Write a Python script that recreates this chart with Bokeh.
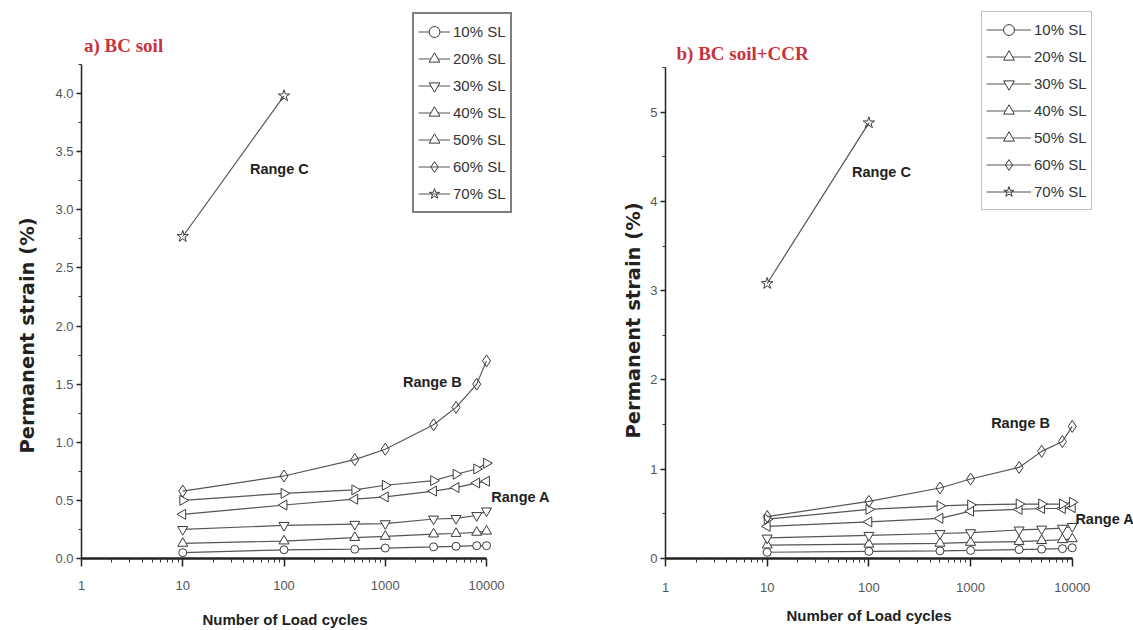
import math
from bokeh.plotting import figure
from bokeh.layouts import row
from bokeh.models import (Label, Legend, LegendItem, FixedTicker, Title,
                          NumeralTickFormatter, Range1d)
from bokeh.embed import file_html
from bokeh.resources import INLINE

# ---------------- data ----------------
cycles = [10, 100, 500, 1000, 3000, 5000, 8000, 10000]
cycles_70 = [10, 100]
series_labels = ["10% SL", "20% SL", "30% SL", "40% SL", "50% SL", "60% SL", "70% SL"]

# a) BC soil
bc_10 = [0.05, 0.075, 0.08, 0.09, 0.10, 0.105, 0.11, 0.11]
bc_20 = [0.13, 0.15, 0.18, 0.19, 0.21, 0.215, 0.225, 0.235]
bc_30 = [0.25, 0.285, 0.295, 0.30, 0.34, 0.345, 0.37, 0.41]
bc_40 = [0.38, 0.46, 0.51, 0.53, 0.58, 0.61, 0.65, 0.665]
bc_50 = [0.50, 0.56, 0.59, 0.63, 0.67, 0.725, 0.77, 0.82]
bc_60 = [0.58, 0.71, 0.85, 0.94, 1.15, 1.30, 1.50, 1.70]
bc_70 = [2.77, 3.98]

# b) BC soil + CCR
ccr_10 = [0.07, 0.08, 0.085, 0.09, 0.10, 0.105, 0.11, 0.12]
ccr_20 = [0.15, 0.16, 0.17, 0.18, 0.19, 0.20, 0.21, 0.22]
ccr_30 = [0.23, 0.26, 0.28, 0.29, 0.32, 0.33, 0.34, 0.36]
ccr_40 = [0.36, 0.41, 0.45, 0.53, 0.55, 0.56, 0.56, 0.57]
ccr_50 = [0.44, 0.55, 0.59, 0.60, 0.61, 0.61, 0.61, 0.63]
ccr_60 = [0.47, 0.64, 0.79, 0.89, 1.02, 1.20, 1.31, 1.48]
ccr_70 = [3.08, 4.88]

x_ticks = [1, 10, 100, 1000, 10000]
x_minor_ticks = [2, 3, 4, 5, 6, 7, 8, 9,
                 20, 30, 40, 50, 60, 70, 80, 90,
                 200, 300, 400, 500, 600, 700, 800, 900,
                 2000, 3000, 4000, 5000, 6000, 7000, 8000, 9000]
a_y_ticks = [0.0, 0.5, 1.0, 1.5, 2.0, 2.5, 3.0, 3.5, 4.0]
a_y_minor = [0.25, 0.75, 1.25, 1.75, 2.25, 2.75, 3.25, 3.75, 4.25]
b_y_ticks = [0, 1, 2, 3, 4, 5]
b_y_minor = [0.5, 1.5, 2.5, 3.5, 4.5, 5.5]

SANS = "Liberation Sans"
SERIF = "Liberation Serif"
LINE_C = "#555555"
MARK_C = "#3a3a3a"

marker_specs = [("circle", 0.0, 8), ("triangle", 0.0, 10), ("inverted_triangle", 0.0, 10),
                ("triangle", math.pi / 2, 10), ("triangle", -math.pi / 2, 10),
                ("diamond", 0.0, 12), ("star", 0.0, 12)]


def make_panel(width, border_left, border_bottom, x_end, y_end, y_axis_end,
               yt, ymt, yfmt, series, title, title_xoff, title_y,
               ylab_offset, ylab_standoff, tick_standoff,
               xlab_offset, xlab_standoff, xlab_pad,
               legend_loc, legend_border, legend_bw, glyph_w, ranges_pos):
    height = 630
    p = figure(width=width, height=height, x_axis_type="log",
               x_range=Range1d(1, x_end), y_range=Range1d(0, y_end),
               output_backend="svg", toolbar_location=None,
               min_border_left=border_left, min_border_right=0,
               min_border_top=0, min_border_bottom=border_bottom)
    p.outline_line_color = None
    p.grid.visible = False
    p.background_fill_color = "white"
    p.border_fill_color = "white"

    xa = p.xaxis[0]
    xa.bounds = (1, 10000)
    xa.ticker = FixedTicker(ticks=x_ticks, minor_ticks=x_minor_ticks)
    xa.formatter = NumeralTickFormatter(format="0")
    xa.axis_line_width = 2.5
    xa.axis_line_color = "#222222"
    xa.major_tick_out = 8
    xa.major_tick_in = 0
    xa.major_tick_line_width = 1.5
    xa.major_tick_line_color = "#222222"
    xa.minor_tick_out = 4
    xa.minor_tick_in = 0
    xa.minor_tick_line_color = "#333333"
    xa.major_label_standoff = tick_standoff
    xa.major_label_text_font = SANS
    xa.major_label_text_font_size = "13px"
    xa.major_label_text_color = "#555555"

    ya = p.yaxis[0]
    ya.bounds = (0, y_axis_end)
    ya.ticker = FixedTicker(ticks=yt, minor_ticks=ymt)
    ya.formatter = NumeralTickFormatter(format=yfmt)
    ya.axis_line_width = 1.5
    ya.axis_line_color = "#222222"
    ya.major_tick_out = 5
    ya.major_tick_in = 0
    ya.major_tick_line_width = 1.5
    ya.major_tick_line_color = "#222222"
    ya.minor_tick_out = 3
    ya.minor_tick_in = 0
    ya.minor_tick_line_color = "#333333"
    ya.major_label_standoff = 3
    ya.major_label_text_font = SANS
    ya.major_label_text_font_size = "13px"
    ya.major_label_text_color = "#555555"

    items = []
    for i, (xs, ys) in enumerate(series):
        mk, ang, sz = marker_specs[i]
        lr = p.line(xs, ys, line_color=LINE_C, line_width=1.2)
        sr = p.scatter(xs, ys, marker=mk, angle=ang, size=sz,
                       line_color=MARK_C, line_width=1.0,
                       fill_color="white", fill_alpha=0.0 if mk in ("diamond", "star") else 1.0)
        items.append(LegendItem(label=series_labels[i], renderers=[lr, sr]))

    leg = Legend(items=items, location=legend_loc,
                 border_line_color=legend_border, border_line_width=legend_bw,
                 background_fill_color="white", background_fill_alpha=1.0,
                 padding=4, spacing=0, margin=0,
                 glyph_width=glyph_w, glyph_height=27, label_height=27,
                 label_standoff=3,
                 label_text_font=SANS, label_text_font_size="15px",
                 label_text_color="#333333")
    p.add_layout(leg)

    # panel title
    p.add_layout(Label(x=1, y=title_y, x_offset=title_xoff, text=title,
                       text_font=SERIF, text_font_style="bold",
                       text_font_size="19px", text_color="#c8323c",
                       text_baseline="middle", text_align="left"))
    # axis titles
    p.add_layout(Title(text="Permanent strain (%)", align="left", offset=ylab_offset,
                       standoff=ylab_standoff,
                       text_font="DejaVu Sans", text_font_style="bold",
                       text_font_size="19.5px", text_color="#222222"), "left")
    p.add_layout(Title(text="Number of Load cycles", align="left", offset=xlab_offset,
                       standoff=xlab_standoff,
                       padding=dict(left=0, right=0, top=xlab_pad, bottom=0),
                       text_font=SANS, text_font_style="bold",
                       text_font_size="15px", text_color="#222222"), "below")
    # range annotations
    for txt, (rx, ry, align) in ranges_pos.items():
        p.add_layout(Label(x=rx, y=ry, text=txt, text_font=SANS, text_font_style="bold",
                           text_font_size="14.5px", text_color="#222222",
                           text_baseline="middle", text_align=align))
    return p


series_a = [(cycles, bc_10), (cycles, bc_20), (cycles, bc_30), (cycles, bc_40),
            (cycles, bc_50), (cycles, bc_60), (cycles_70, bc_70)]
series_b = [(cycles, ccr_10), (cycles, ccr_20), (cycles, ccr_30), (cycles, ccr_40),
            (cycles, ccr_50), (cycles, ccr_60), (cycles_70, ccr_70)]

p1 = make_panel(width=564, border_left=81, border_bottom=72, x_end=58900, y_end=4.80,
                y_axis_end=4.25, yt=a_y_ticks, ymt=a_y_minor, yfmt="0.0", series=series_a,
                title="a) BC soil", title_xoff=2.5, title_y=4.413,
                ylab_offset=105, ylab_standoff=27, tick_standoff=14,
                xlab_offset=121, xlab_standoff=0, xlab_pad=16,
                legend_loc=(331, 345), legend_border="#000000", legend_bw=2.5,
                glyph_w=32,
                ranges_pos={"Range C": (90, 3.35, "center"),
                            "Range B": (2917, 1.517, "center"),
                            "Range A": (11150, 0.527, "left")})

p2 = make_panel(width=569, border_left=101, border_bottom=68, x_end=40000, y_end=6.25,
                y_axis_end=5.5, yt=b_y_ticks, ymt=b_y_minor, yfmt="0", series=series_b,
                title="b) BC soil+CCR", title_xoff=11, title_y=5.661,
                ylab_offset=120, ylab_standoff=5, tick_standoff=16,
                xlab_offset=121, xlab_standoff=0, xlab_pad=10,
                legend_loc=(316, 348), legend_border="#888888", legend_bw=1.5,
                glyph_w=45,
                ranges_pos={"Range C": (133, 4.33, "center"),
                            "Range B": (3100, 1.516, "center"),
                            "Range A": (10730, 0.448, "left")})

layout = row(p1, p2)
open("out.html", "w").write(file_html(layout, INLINE))
